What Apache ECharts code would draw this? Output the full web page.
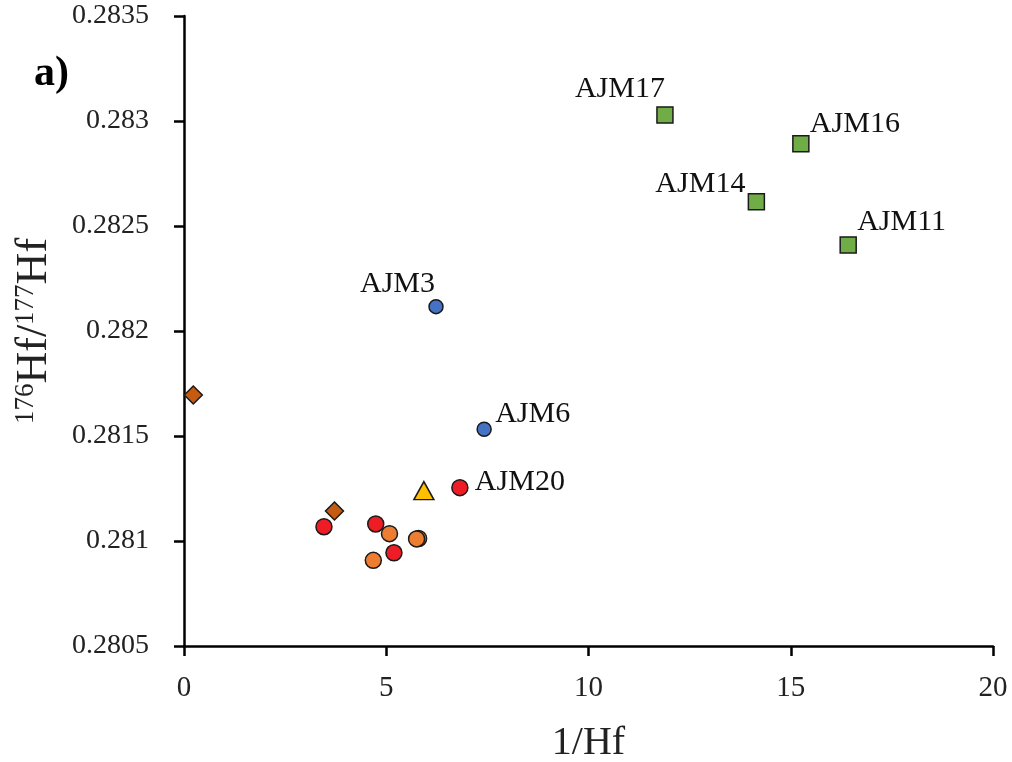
<!DOCTYPE html>
<html><head><meta charset="utf-8">
<script src="https://cdn.jsdelivr.net/npm/echarts@6/dist/echarts.min.js"></script>
<style>html,body{margin:0;padding:0;background:#fff}#c{width:1012px;height:762px}</style>
</head><body><div id="c"></div>
<script>
// [1/Hf, 176Hf/177Hf, label]
const greenSquares = [[11.89,0.283029,'AJM17'],[15.25,0.282892,'AJM16'],[14.15,0.282616,'AJM14'],[16.42,0.28241,'AJM11']];
const blueCircles = [[6.23,0.282116,'AJM3'],[7.42,0.281532,'AJM6']];
const redCircles = [[3.46,0.281068,''],[4.74,0.281081,''],[5.19,0.280944,''],[6.82,0.281254,'AJM20']];
const orangeCircles = [[5.08,0.281035,''],[4.68,0.280908,''],[5.80,0.281012,''],[5.75,0.28101,'']];
const brownDiamonds = [[0.23,0.281695,''],[3.72,0.281143,'']];
const yellowTriangles = [[5.93,0.28124,'']];
const xTicks = [0,5,10,15,20];
const yTicks = [0.2805,0.281,0.2815,0.282,0.2825,0.283,0.2835];

const labelPos = {AJM17:[-90,-41],AJM16:[9,-35],AJM14:[-101,-33],AJM11:[9,-38],AJM3:[-76,-38],AJM6:[11,-30],AJM20:[15,-21]};
const font = '"Liberation Serif","Times New Roman",serif';
function mk(name,data,symbol,size,color){
  return {name,type:'scatter',symbol,symbolSize:size,
    data:data.map(d=>({value:[d[0],d[1]],name:d[2],label:{show:!!d[2],offset:labelPos[d[2]]||[0,0]}})),
    itemStyle:{color,borderColor:'#1a1a1a',borderWidth:1.5,opacity:1},
    label:{position:'inside',formatter:p=>p.data.name,fontFamily:font,fontSize:30,color:'#111',align:'left',verticalAlign:'top'},
    emphasis:{disabled:true}};
}
const chart = echarts.init(document.getElementById('c'));
chart.setOption({
  animation:false,
  grid:{left:184,right:19,top:16,bottom:116,containLabel:false,outerBoundsMode:'none'},
  graphic:[{type:'text',left:34,top:53,style:{text:'a)',font:'bold 42px '+font,fill:'#000'}}],
  xAxis:{type:'value',min:0,max:20,interval:5,
    name:'1/Hf',nameLocation:'middle',nameGap:77,nameTextStyle:{fontFamily:font,fontSize:40,color:'#222'},
    axisLine:{lineStyle:{color:'#000',width:2.5}},axisTick:{length:10,lineStyle:{color:'#000',width:2.5}},
    axisLabel:{fontFamily:font,fontSize:29,color:'#222',margin:28},splitLine:{show:false}},
  yAxis:{type:'value',min:0.2805,max:0.2835,interval:0.0005,
    name:'{s|176}{b|Hf/}{s|177}{b|Hf}',nameLocation:'middle',nameGap:128,nameRotate:90,
    nameTextStyle:{rich:{b:{fontFamily:font,fontSize:44,color:'#222'},s:{fontFamily:font,fontSize:27,color:'#222',verticalAlign:'top',padding:[0,0,16,0]}}},
    axisLine:{show:true,lineStyle:{color:'#000',width:2.5}},axisTick:{show:true,length:10,lineStyle:{color:'#000',width:2.5}},
    axisLabel:{fontFamily:font,fontSize:28,color:'#222',margin:35,formatter:v=>String(+v.toFixed(4))},splitLine:{show:false}},
  series:[
    mk('brown',brownDiamonds,'diamond',[18,18],'#C55A11'),
    mk('orange',orangeCircles,'circle',16,'#ED7D31'),
    mk('red',redCircles,'circle',16,'#EE1C25'),
    mk('yellow',yellowTriangles,'triangle',[20,18],'#FFC000'),
    mk('blue',blueCircles,'circle',14,'#4472C4'),
    mk('green',greenSquares,'rect',16,'#70AD47')
  ]
});
</script></body></html>
